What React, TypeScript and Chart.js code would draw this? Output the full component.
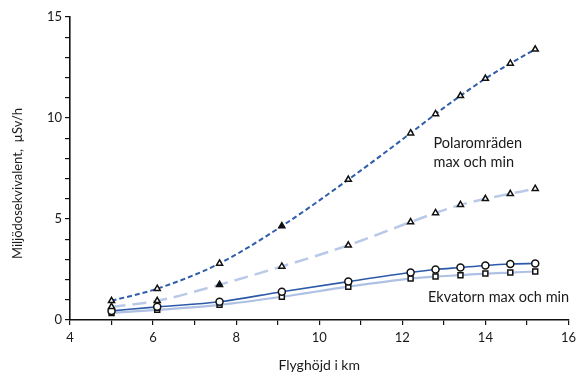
import { useEffect, useRef } from "react";
import Chart from "chart.js/auto";

const altitudeKm = [5.0, 6.1, 7.6, 9.1, 10.7, 12.2, 12.8, 13.4, 14.0, 14.6, 15.2];
const polarMax = [0.95, 1.55, 2.8, 4.65, 6.95, 9.25, 10.2, 11.1, 11.95, 12.7, 13.4];
const polarMin = [0.65, 0.95, 1.75, 2.65, 3.7, 4.85, 5.3, 5.7, 6.0, 6.25, 6.5];
const equatorMax = [0.45, 0.65, 0.9, 1.4, 1.9, 2.35, 2.5, 2.6, 2.7, 2.77, 2.8];
const equatorMin = [0.35, 0.5, 0.75, 1.15, 1.65, 2.05, 2.15, 2.22, 2.3, 2.35, 2.4];

const xTickLabels = [4, 6, 8, 10, 12, 14, 16];
const yTickLabels = [0, 5, 10, 15];

const yTitle = "Miljödosekvivalent,  µSv/h";
const xTitle = "Flyghöjd i km";

const notes = [
  { text: "Polaromräden", x: 12.75, y: 8.75 },
  { text: "max och min", x: 12.75, y: 7.8 },
  { text: "Ekvatorn max och min", x: 12.62, y: 1.1 },
];

const FONT = "Lato, 'Open Sans', sans-serif";

const toPts = (vals: number[]) => altitudeKm.map((x, i) => ({ x, y: vals[i] }));

export default function App() {
  const ref = useRef<HTMLCanvasElement | null>(null);

  useEffect(() => {
    document.body.style.margin = "0";
    const canvas = ref.current;
    if (!canvas) return;

    const notesPlugin = {
      id: "notes",
      afterDatasetsDraw(chart: any) {
        const { ctx, scales, chartArea } = chart;
        ctx.save();
        ctx.fillStyle = "#1a1a1a";
        ctx.font = `14.5px ${FONT}`;
        ctx.textAlign = "left";
        ctx.textBaseline = "middle";
        for (const n of notes) {
          ctx.fillText(n.text, scales.x.getPixelForValue(n.x), scales.y.getPixelForValue(n.y));
        }
        // y-axis title
        ctx.font = `13px ${FONT}`;
        ctx.textAlign = "center";
        ctx.translate(18, (chartArea.top + chartArea.bottom) / 2 + 15);
        ctx.rotate(-Math.PI / 2);
        ctx.fillText(yTitle, 0, 0);
        ctx.restore();
      },
    };

    const common = {
      cubicInterpolationMode: "monotone" as const,
      pointBorderColor: "#111",
      pointBorderWidth: 1.5,
      pointRadius: 3.5,
      fill: false,
    };

    const chart = new Chart(canvas, {
      type: "line",
      data: {
        datasets: [
          {
            ...common,
            label: "Polar max",
            data: toPts(polarMax),
            borderColor: "#2e5eab",
            borderWidth: 2,
            borderDash: [5, 3],
            pointStyle: "triangle",
            pointBackgroundColor: polarMax.map((_, i) => (i === 3 ? "#111" : "#fff")),
          },
          {
            ...common,
            label: "Polar min",
            data: toPts(polarMin),
            borderColor: "#b9cae8",
            borderWidth: 2.5,
            borderDash: [14, 7],
            pointStyle: "triangle",
            pointBackgroundColor: polarMin.map((_, i) => (i === 2 ? "#111" : "#fff")),
          },
          {
            ...common,
            label: "Ekvatorn max",
            data: toPts(equatorMax),
            borderColor: "#2d5aa8",
            borderWidth: 1.6,
            pointStyle: "circle",
            pointBackgroundColor: "#fff",
          },
          {
            ...common,
            label: "Ekvatorn min",
            data: toPts(equatorMin),
            borderColor: "#aec1e3",
            borderWidth: 2.2,
            pointStyle: "rect",
            pointBackgroundColor: "#fff",
          },
        ],
      },
      options: {
        responsive: false,
        animation: false,
        plugins: { legend: { display: false }, tooltip: { enabled: false } },
        layout: { padding: { top: 17, right: 9, left: 0, bottom: 0 } },
        scales: {
          x: {
            type: "linear",
            min: 4,
            max: 16,
            afterFit: (s: any) => {
              s.height = 54;
            },
            ticks: {
              stepSize: 1,
              autoSkip: false,
              maxRotation: 0,
              color: "#1a1a1a",
              font: { family: FONT, size: 13 },
              padding: 5,
              callback: (v: any) => (xTickLabels.includes(Number(v)) ? String(v) : ""),
            },
            grid: { drawOnChartArea: false, drawTicks: true, tickLength: 5, color: "#111", lineWidth: 1.2 },
            border: { display: true, color: "#111", width: 1.6 },
            title: {
              display: true,
              text: xTitle,
              color: "#1a1a1a",
              font: { family: FONT, size: 14 },
              padding: { top: 6, bottom: 0 },
            },
          },
          y: {
            type: "linear",
            min: 0,
            max: 15,
            afterFit: (s: any) => {
              s.width = 70;
            },
            ticks: {
              stepSize: 1,
              autoSkip: false,
              color: "#1a1a1a",
              font: { family: FONT, size: 13 },
              padding: 3,
              callback: (v: any) => (yTickLabels.includes(Number(v)) ? String(v) : ""),
            },
            grid: { drawOnChartArea: false, drawTicks: true, tickLength: 5, color: "#111", lineWidth: 1.2 },
            border: { display: true, color: "#111", width: 1.6 },
          },
        },
      },
      plugins: [notesPlugin],
    });

    return () => chart.destroy();
  }, []);

  return <canvas ref={ref} width={581} height={374} style={{ display: "block" }} />;
}
